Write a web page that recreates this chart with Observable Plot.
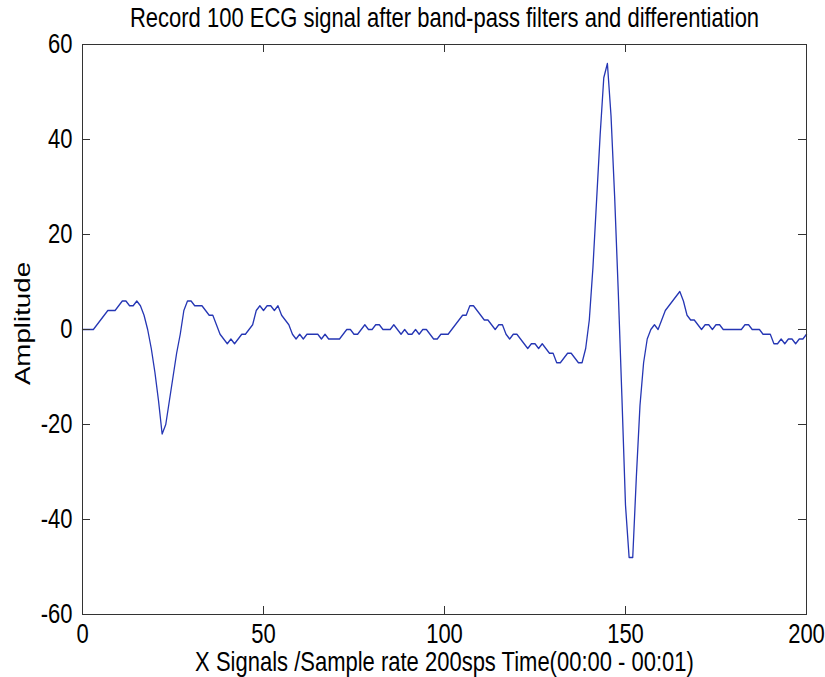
<!DOCTYPE html>
<html><head><meta charset="utf-8">
<script src="https://cdn.jsdelivr.net/npm/d3@7"></script>
<script src="https://cdn.jsdelivr.net/npm/@observablehq/plot@0.6"></script>
<style>body{margin:0;background:#fff;} svg{display:block}</style>
</head><body><div id="chart"></div>
<script>
const title = "Record 100 ECG signal after band-pass filters and differentiation";
const xLabel = "X Signals /Sample rate 200sps Time(00:00 - 00:01)";
const yLabel = "Amplitude";
const xTicks = [0, 50, 100, 150, 200];
const yTicks = [-60, -40, -20, 0, 20, 40, 60];
// amplitude at sample index 0..200
const amplitude = [
  0, 0, 0, 0, 1, 2, 3, 4, 4, 4,
  5, 6, 6, 5, 5, 6, 5, 3, 0, -4,
  -9, -15, -22, -20, -15, -10, -5, -1, 4, 6,
  6, 5, 5, 5, 4, 3, 3, 1, -1, -2,
  -3, -2, -3, -2, -1, -1, 0, 1, 4, 5,
  4, 5, 5, 4, 5, 3, 2, 1, -1, -2,
  -1, -2, -1, -1, -1, -1, -2, -1, -2, -2,
  -2, -2, -1, 0, 0, -1, -1, 0, 1, 0,
  0, 1, 1, 0, 0, 0, 1, 0, -1, 0,
  -1, -1, 0, -1, 0, 0, -1, -2, -2, -1,
  -1, -1, 0, 1, 2, 3, 3, 5, 5, 4,
  3, 2, 2, 1, 0, 1, 1, -1, -2, -1,
  -1, -2, -3, -4, -3, -3, -4, -3, -4, -5,
  -5, -7, -7, -6, -5, -5, -6, -7, -7, -4,
  2, 13, 27, 41, 53, 56, 45, 28, 8, -14,
  -37, -48, -48, -31, -16, -7, -2, 0, 1, 0,
  2, 4, 5, 6, 7, 8, 6, 3, 2, 2,
  1, 0, 1, 1, 0, 1, 1, 0, 0, 0,
  0, 0, 0, 1, 1, 0, 0, 0, -1, -1,
  -1, -3, -3, -2, -3, -2, -2, -3, -2, -2,
  -1
];
const data = amplitude.map((v, i) => ({sample: i, value: v}));

const W = 825, H = 677, mL = 82, mR = 19, mT = 44, mB = 63;
const innerH = H - mT - mB, innerW = W - mL - mR;
const tickLen = 8;
const axisColor = "#333";
const fs = 22;
const font = "'Liberation Sans', Arial, sans-serif";

const chart = Plot.plot({
  width: W, height: H,
  marginLeft: mL, marginRight: mR, marginTop: mT, marginBottom: mB,
  style: {fontFamily: font, fontSize: fs + "px", color: "#000", background: "#fff"},
  x: {domain: [0, 200]},
  y: {domain: [-60, 60]},
  marks: [
    Plot.line(data, {x: "sample", y: "value", stroke: "#2536b4", strokeWidth: 1.3}),
    Plot.tickX(xTicks.slice(1, -1), {x: d => d, insetTop: innerH - tickLen, stroke: axisColor}),
    Plot.tickX(xTicks.slice(1, -1), {x: d => d, insetBottom: innerH - tickLen, stroke: axisColor}),
    Plot.tickY(yTicks.slice(1, -1), {y: d => d, insetRight: innerW - tickLen, stroke: axisColor}),
    Plot.tickY(yTicks.slice(1, -1), {y: d => d, insetLeft: innerW - tickLen, stroke: axisColor}),
    Plot.frame({stroke: axisColor}),
    Plot.axisX(xTicks, {tickSize: 0, tickPadding: 9, label: null, fontSize: fs, tickFormat: d => String(d)}),
    Plot.axisY(yTicks, {tickSize: 0, tickPadding: 10, label: null, fontSize: fs, tickFormat: d => String(d)}),
    Plot.text([title], {text: d => d, frameAnchor: "top", dy: -26, lineAnchor: "middle", textAnchor: "middle", fontSize: fs}),
    Plot.text([xLabel], {text: d => d, frameAnchor: "bottom", dy: 48, lineAnchor: "middle", textAnchor: "middle", fontSize: fs}),
    Plot.text([yLabel], {text: d => d, frameAnchor: "left", dx: -60, dy: -6, rotate: -90, lineAnchor: "middle", textAnchor: "middle", fontSize: fs})
  ]
});

// The reference's lettering is vertically stretched (~1.26x); mimic it.
chart.querySelectorAll("text").forEach(t => {
  const tr = t.getAttribute("transform") || "";
  const rotated = /rotate\(\s*-?90\s*\)/.test(tr);
  t.setAttribute("transform", `${tr} ${rotated ? "scale(1.26,1)" : "scale(1,1.26)"}`);
});
document.getElementById("chart").appendChild(chart);
</script>
</body></html>
